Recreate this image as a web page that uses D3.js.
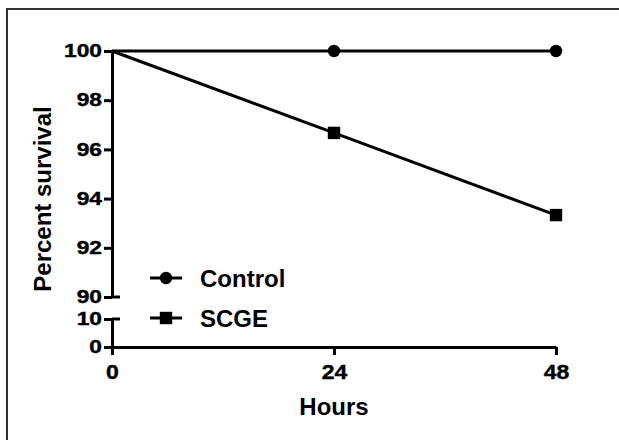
<!DOCTYPE html>
<html>
<head>
<meta charset="utf-8">
<script src="https://cdn.jsdelivr.net/npm/d3@7"></script>
<style>
  html, body { margin: 0; padding: 0; background: #fff; }
  svg { display: block; font-family: "Liberation Sans", Arial, sans-serif; font-weight: bold; }
</style>
</head>
<body>
<svg id="chart" width="619" height="440"></svg>
<script>
// Survival over time, two groups
const hours = [0, 24, 48];
const controlSurvival = [100, 100, 100];
const scgeSurvival = [100, 96.67, 93.33];
const seriesNames = ["Control", "SCGE"];
const xTicks = [0, 24, 48];
const yTicksUpper = [90, 92, 94, 96, 98, 100];
const yTicksLower = [0, 10];

const svg = d3.select("#chart");

// frame (left and top edges)
svg.append("path")
  .attr("d", "M7,440 L7,9 L619,9")
  .attr("fill", "none")
  .attr("stroke", "#333")
  .attr("stroke-width", 2);

const x = d3.scaleLinear().domain([0, 48]).range([112, 556]);
// broken y axis: upper segment 90–100, lower segment 0–10
const yUp = d3.scaleLinear().domain([90, 100]).range([297, 51]);
const yLow = d3.scaleLinear().domain([0, 10]).range([347, 319]);

const AX = 112, AY = 347, SW = 3, TICK = 8;
const sxY = 1.3, sxX = 1.15;

function styleAxis(g) {
  g.selectAll("path, line").attr("stroke", "#000").attr("stroke-width", SW);
}

// upper y axis
const gUp = svg.append("g").attr("transform", `translate(${AX},0)`)
  .call(d3.axisLeft(yUp).tickValues(yTicksUpper).tickSize(TICK).tickSizeOuter(0));
// lower y axis
const gLow = svg.append("g").attr("transform", `translate(${AX},0)`)
  .call(d3.axisLeft(yLow).tickValues(yTicksLower).tickSize(TICK).tickSizeOuter(0));

[gUp, gLow].forEach(g => {
  styleAxis(g);
  g.selectAll("text")
    .attr("fill", "#000")
    .attr("stroke", "#000")
    .attr("stroke-width", 0.4)
    .attr("font-size", 17.5)
    .attr("font-family", "Liberation Sans, Arial, sans-serif")
    .attr("font-weight", "bold")
    .attr("x", -10 / sxY)
    .attr("transform", `scale(${sxY},1)`);
});

// break caps: ticks at the segment ends reach to both sides
svg.append("line").attr("x1", AX).attr("x2", AX + TICK)
  .attr("y1", yUp(90)).attr("y2", yUp(90))
  .attr("stroke", "#000").attr("stroke-width", SW);
svg.append("line").attr("x1", AX).attr("x2", AX + TICK)
  .attr("y1", yLow(10)).attr("y2", yLow(10))
  .attr("stroke", "#000").attr("stroke-width", SW);

// x axis
const gX = svg.append("g").attr("transform", `translate(0,${AY})`)
  .call(d3.axisBottom(x).tickValues(xTicks).tickSize(TICK).tickSizeOuter(0));
styleAxis(gX);
gX.selectAll("text")
  .attr("fill", "#000")
  .attr("stroke", "#000")
  .attr("stroke-width", 0.4)
  .attr("font-size", 20)
  .attr("font-family", "Liberation Sans, Arial, sans-serif")
  .attr("font-weight", "bold")
  .attr("y", 32.5)
  .attr("dy", 0)
  .attr("x", 0)
  .attr("transform", `scale(${sxX},1)`);

// axis titles
svg.append("text")
  .attr("transform", "translate(51,199) rotate(-90)")
  .attr("text-anchor", "middle")
  .attr("font-size", 24)
  .text("Percent survival");
svg.append("text")
  .attr("x", 334).attr("y", 415)
  .attr("text-anchor", "middle")
  .attr("font-size", 24)
  .text("Hours");

// series
const line = d3.line().x(d => x(d[0])).y(d => yUp(d[1]));
const controlPts = hours.map((h, i) => [h, controlSurvival[i]]);
const scgePts = hours.map((h, i) => [h, scgeSurvival[i]]);

svg.append("path").attr("d", line(controlPts))
  .attr("fill", "none").attr("stroke", "#000").attr("stroke-width", SW);
svg.append("path").attr("d", line(scgePts))
  .attr("fill", "none").attr("stroke", "#000").attr("stroke-width", SW);

svg.selectAll("circle.ctrl").data(controlPts.filter(d => d[0] > 0))
  .enter().append("circle").attr("class", "ctrl")
  .attr("cx", d => x(d[0])).attr("cy", d => yUp(d[1])).attr("r", 6.2)
  .attr("fill", "#000");
svg.selectAll("rect.scge").data(scgePts.filter(d => d[0] > 0))
  .enter().append("rect").attr("class", "scge")
  .attr("x", d => x(d[0]) - 6.2).attr("y", d => yUp(d[1]) - 6.2)
  .attr("width", 12.4).attr("height", 12.4)
  .attr("fill", "#000");

// legend
const legendY = [278, 318];
const lg = svg.append("g");
seriesNames.forEach((name, i) => {
  const yy = legendY[i];
  lg.append("line").attr("x1", 150).attr("x2", 182).attr("y1", yy).attr("y2", yy)
    .attr("stroke", "#000").attr("stroke-width", SW);
  if (i === 0) {
    lg.append("circle").attr("cx", 166).attr("cy", yy).attr("r", 6.2).attr("fill", "#000");
  } else {
    lg.append("rect").attr("x", 159.8).attr("y", yy - 6.2).attr("width", 12.4).attr("height", 12.4).attr("fill", "#000");
  }
  lg.append("text").attr("x", 200).attr("y", yy + 9)
    .attr("font-size", 24).text(name);
});
</script>
</body>
</html>
